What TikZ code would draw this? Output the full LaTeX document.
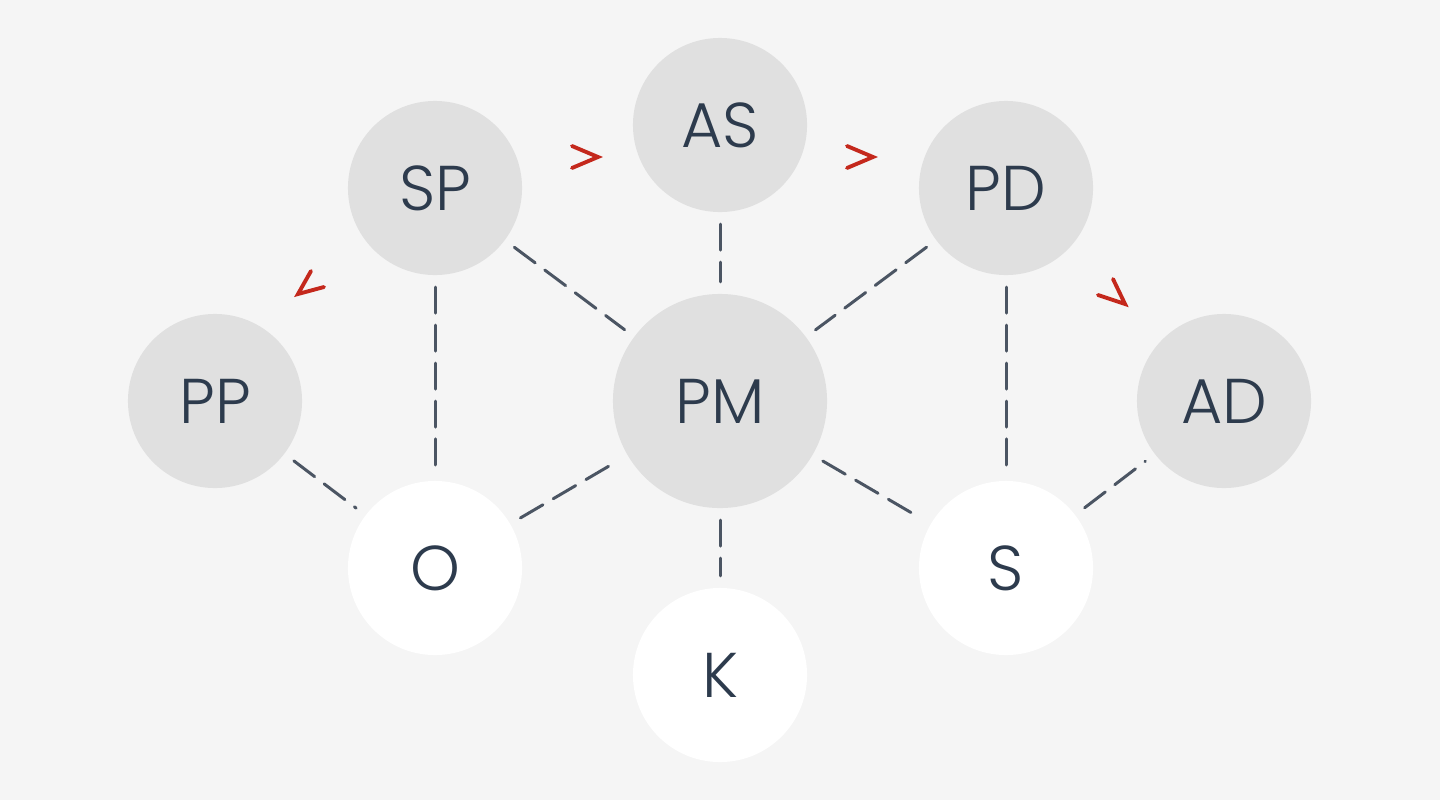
\documentclass[tikz,border=0pt]{standalone}
\usepackage{fontspec}
\setmainfont{Poppins Light}
\definecolor{bgcol}{HTML}{F5F5F5}
\definecolor{discgrey}{HTML}{E0E0E0}
\definecolor{inkcol}{HTML}{2D3B4D}
\definecolor{linecol}{HTML}{4B5563}
\definecolor{chevred}{HTML}{C4281C}
\tikzset{
  disc/.style={circle, fill=discgrey, minimum size=1.74cm, inner sep=0pt, outer sep=0.12cm,
    text=inkcol, font=\fontsize{18}{21}\selectfont},
  blank/.style={disc, fill=white},
  link/.style={draw=linecol, line width=0.85pt, dash pattern=on 7.4pt off 3.4pt, line cap=round},
  chev/.style={draw=chevred, line width=1.1pt, line cap=round}
}
\begin{document}
\begin{tikzpicture}[x=0.01cm, y=-0.01cm]
    \fill[bgcol] (0,0) rectangle (1440,800);
    \useasboundingbox (0,0) rectangle (1440,800);

    \node[disc] (as) at (720,125) {AS};
    \node[disc] (sp) at (435,188) {SP};
    \node[disc] (pd) at (1006,188) {PD};
    \node[disc] (pp) at (215,401) {PP};
    \node[disc, minimum size=2.14cm] (pm) at (720,401) {PM};
    \node[disc] (ad) at (1224,401) {AD};
    \node[blank] (o) at (435,568) {O};
    \node[blank] (s) at (1006,568) {S};
    \node[blank] (k) at (720,675) {K};

    \draw[link] (as) -- (pm);
    \draw[link] (sp) -- (pm);
    \draw[link] (pd) -- (pm);
    \draw[link] (sp) -- (o);
    \draw[link] (pd) -- (s);
    \draw[link] (pp) -- (o);
    \draw[link] (o) -- (pm);
    \draw[link] (pm) -- (k);
    \draw[link] (pm) -- (s);
    \draw[link] (s) -- (ad);

    % order markers
    \draw[chev] (572,146) -- (598,157) -- (572,168);
    \draw[chev] (847,146) -- (873,157) -- (847,168);
    \draw[chev] (311,271) -- (298,294) -- (324,287);
    \draw[chev] (1113,279) -- (1125,304) -- (1098,295);
\end{tikzpicture}
\end{document}
